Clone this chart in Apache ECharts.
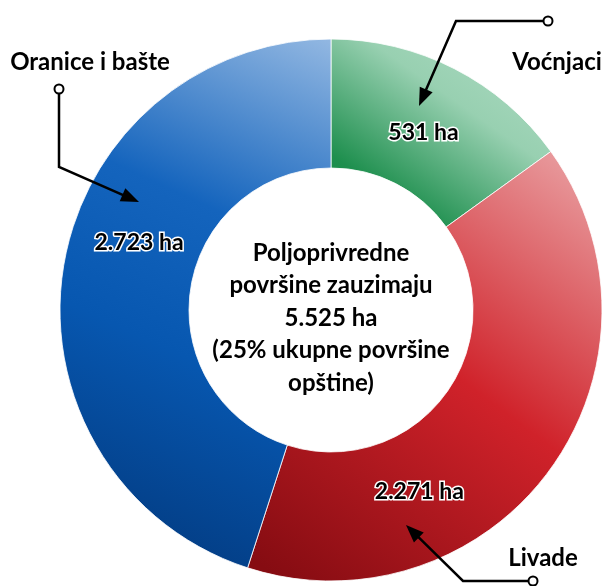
<!DOCTYPE html>
<html>
<head>
<meta charset="utf-8">
<script src="https://cdn.jsdelivr.net/npm/echarts@6/dist/echarts.min.js"></script>
<style>html,body{margin:0;padding:0;background:#fff}#c{width:605px;height:586px}</style>
</head>
<body>
<div id="c"></div>
<script>
// Categories (clockwise from top)
const categories = ['Voćnjaci', 'Livade', 'Oranice i bašte'];
// Value labels printed on slices
const valueLabels = ['531 ha', '2.271 ha', '2.723 ha'];
// Slice shares (% of the ring) as drawn in the picture
const sliceShares = [15.06, 39.92, 45.02];
// Centre text
const centerLines = ['Poljoprivredne', 'površine zauzimaju', '5.525 ha', '(25% ukupne površine', 'opštine)'];

const FONT = 'Lato, "Open Sans", sans-serif';
const CX = 331, CY = 310, R0 = 142, R1 = 271;

const gradients = [
  {dir: [0.8, 0, 0.2, 1], stops: [[0, '#abdac1'], [0.35, '#98d0b1'], [0.85, '#1e8f4e'], [1, '#168a47']]},
  {dir: [1, 0, 0.1, 1], stops: [[0, '#eba8aa'], [0.5, '#d0222a'], [1, '#860c12']]},
  {dir: [1, 0, 0.1, 1], stops: [[0, '#93b8e2'], [0.35, '#1464bd'], [0.6, '#0757b0'], [1, '#02377a']]}
];
function grad(g) {
  return {
    type: 'linear', x: g.dir[0], y: g.dir[1], x2: g.dir[2], y2: g.dir[3],
    colorStops: g.stops.map(s => ({offset: s[0], color: s[1]}))
  };
}
const labelOffsets = [[-3, 9], [-81, 58], [15, -35]];

const data = categories.map((name, i) => ({
  name: name,
  value: sliceShares[i],
  itemStyle: {color: grad(gradients[i])},
  label: {offset: labelOffsets[i]}
}));

// annotation arrows: [circle, corner, tip]
const arrows = [
  {circle: [548, 21], corner: [456, 21], tip: [419, 106]},
  {circle: [533, 581], corner: [463, 581], tip: [406, 525]},
  {circle: [59, 89], corner: [59, 167], tip: [139, 202]}
];
const catLabelPos = [[557, 62], [543, 558], [90, 62]];

const graphic = [];
arrows.forEach(a => {
  const dx = a.tip[0] - a.corner[0], dy = a.tip[1] - a.corner[1];
  const len = Math.hypot(dx, dy), ux = dx / len, uy = dy / len;
  const hl = 18, hw = 7;
  const bx = a.tip[0] - ux * hl, by = a.tip[1] - uy * hl;
  const cdx = a.corner[0] - a.circle[0], cdy = a.corner[1] - a.circle[1];
  const cl = Math.hypot(cdx, cdy);
  const start = [a.circle[0] + cdx / cl * 5, a.circle[1] + cdy / cl * 5];
  graphic.push({
    type: 'polyline', silent: true, z: 100,
    shape: {points: [start, a.corner, [bx + ux * 2, by + uy * 2]]},
    style: {stroke: '#000', lineWidth: 2.5, fill: null}
  });
  graphic.push({
    type: 'polygon', silent: true, z: 100,
    shape: {points: [a.tip, [bx - uy * hw, by + ux * hw], [bx + uy * hw, by - ux * hw]]},
    style: {fill: '#000'}
  });
  graphic.push({
    type: 'circle', silent: true, z: 101,
    shape: {cx: a.circle[0], cy: a.circle[1], r: 4.5},
    style: {fill: '#fff', stroke: '#000', lineWidth: 2}
  });
});
categories.forEach((c, i) => {
  graphic.push({
    type: 'text', silent: true, z: 100, x: catLabelPos[i][0], y: catLabelPos[i][1],
    style: {text: c, font: 'bold 24px ' + FONT, fill: '#000', align: 'center', verticalAlign: 'middle'}
  });
});
graphic.push({
  type: 'text', silent: true, z: 100, x: CX, y: 318,
  style: {text: centerLines.join('\n'), font: 'bold 24px ' + FONT, lineHeight: 32.5,
          fill: '#000', align: 'center', verticalAlign: 'middle'}
});

const chart = echarts.init(document.getElementById('c'), null, {renderer: 'canvas'});
chart.setOption({
  animation: false,
  backgroundColor: '#fff',
  series: [{
    type: 'pie',
    center: [CX, CY],
    radius: [R0, R1],
    startAngle: 90,
    clockwise: true,
    avoidLabelOverlap: false,
    itemStyle: {borderColor: 'rgba(255,255,255,0.8)', borderWidth: 1},
    emphasis: {disabled: true},
    label: {
      show: true, position: 'inside',
      formatter: p => valueLabels[p.dataIndex],
      fontFamily: FONT, fontWeight: 'bold', fontSize: 23, color: '#000',
      textBorderColor: '#fff', textBorderWidth: 3
    },
    labelLine: {show: false},
    data: data
  }],
  graphic: graphic
});
</script>
</body>
</html>
